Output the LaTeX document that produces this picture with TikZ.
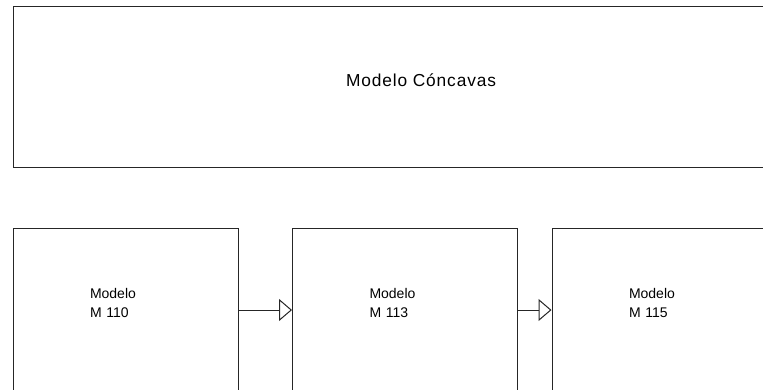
\documentclass[tikz,border=0pt]{standalone}
\usepackage{fontspec}
\setmainfont{Liberation Sans}
\usetikzlibrary{arrows.meta, positioning}

\begin{document}
\begin{tikzpicture}[
  x=0.75pt, y=-0.75pt,
  modelo/.style={rectangle, draw=black!85, line width=0.75pt, fill=white,
              minimum width=225*0.75pt, minimum height=164*0.75pt, inner sep=0pt},
  etiqueta/.style={text width=71*0.75pt, align=left, inner sep=0pt,
              font=\fontsize{10.5}{14}\selectfont},
  grupo/.style={rectangle, draw=black!85, line width=0.75pt, fill=white,
              minimum width=815*0.75pt, minimum height=161*0.75pt},
  arrow/.style={-{Triangle[open, length=13*0.75pt, width=22*0.75pt]},
              draw=black!85, line width=0.75pt},
]
\useasboundingbox (0,0) rectangle (763,389);
\clip (0,0) rectangle (763,389);
% grupo superior
\node[grupo]  (concavas) at (421, 87)   {};
\node[font=\fontsize{13}{15}\selectfont\addfontfeature{LetterSpace=5}]
  (lblconcavas) at (421, 80) {Modelo Cóncavas};
% modelos
\node[modelo] (m110)     at (125.5, 310) {};
\node[modelo] (m113)     at (405, 310)   {};
\node[modelo] (m115)     at (664.5, 310) {};
\node[etiqueta] (lbl110) at (125.5, 303) {Modelo\\M 110};
\node[etiqueta] (lbl113) at (405, 303)   {Modelo\\M 113};
\node[etiqueta] (lbl115) at (664.5, 303) {Modelo\\M 115};
\draw[arrow] (m110.east) -- (m113.west);
\draw[arrow] (m113.east) -- (m115.west);
\end{tikzpicture}
\end{document}
